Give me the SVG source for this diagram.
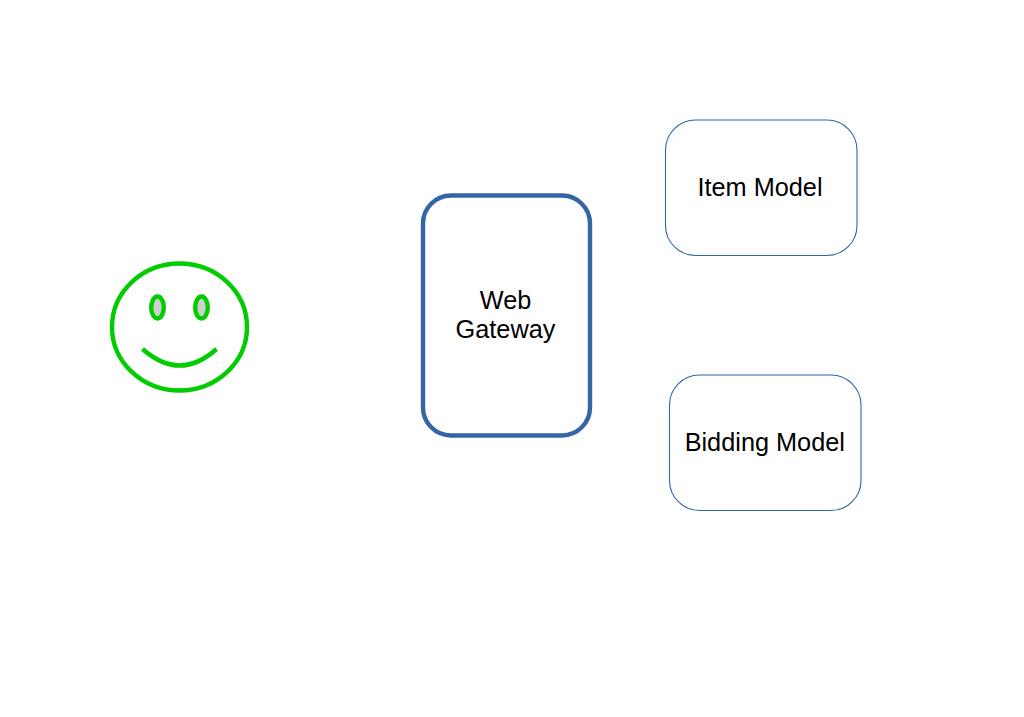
<svg xmlns="http://www.w3.org/2000/svg" width="1024" height="717" viewBox="0 0 1024 717">
<style>
.t{font-family:"Liberation Sans",Arial,sans-serif;font-size:25.3px;fill:#000;text-anchor:middle}
.m{fill:#fff;stroke:#3465a4;stroke-width:1.1}
.s{fill:none;stroke:#00cc00;stroke-width:4.4}
.e{fill:#cfcfcf;stroke:#00cc00;stroke-width:4.4}
</style>
<rect width="1024" height="717" fill="#fff"/>
<g id="connectors"></g>
<g id="user">
<ellipse class="s" cx="179.500" cy="327" rx="67.500" ry="63.500"/>
<ellipse class="e" cx="157.500" cy="307.500" rx="6.300" ry="11"/>
<ellipse class="e" cx="201.500" cy="307.500" rx="6.300" ry="11"/>
<path class="s" d="M142.500 349Q180 382 216.500 349"/>
</g>
<g id="web-gateway">
<rect x="423" y="195.500" width="167" height="240" rx="28" fill="#fff" stroke="#3465a4" stroke-width="4.4"/>
<text class="t" x="505.500" y="309">Web</text>
<text class="t" x="505.500" y="338">Gateway</text>
</g>
<g id="item-model">
<rect class="m" x="665.500" y="120" width="191.500" height="135.500" rx="30"/>
<text class="t" x="760" y="196">Item Model</text>
</g>
<g id="bidding-model">
<rect class="m" x="669.500" y="375" width="191.500" height="135.500" rx="30"/>
<text class="t" x="764.800" y="451">Bidding Model</text>
</g>
</svg>
